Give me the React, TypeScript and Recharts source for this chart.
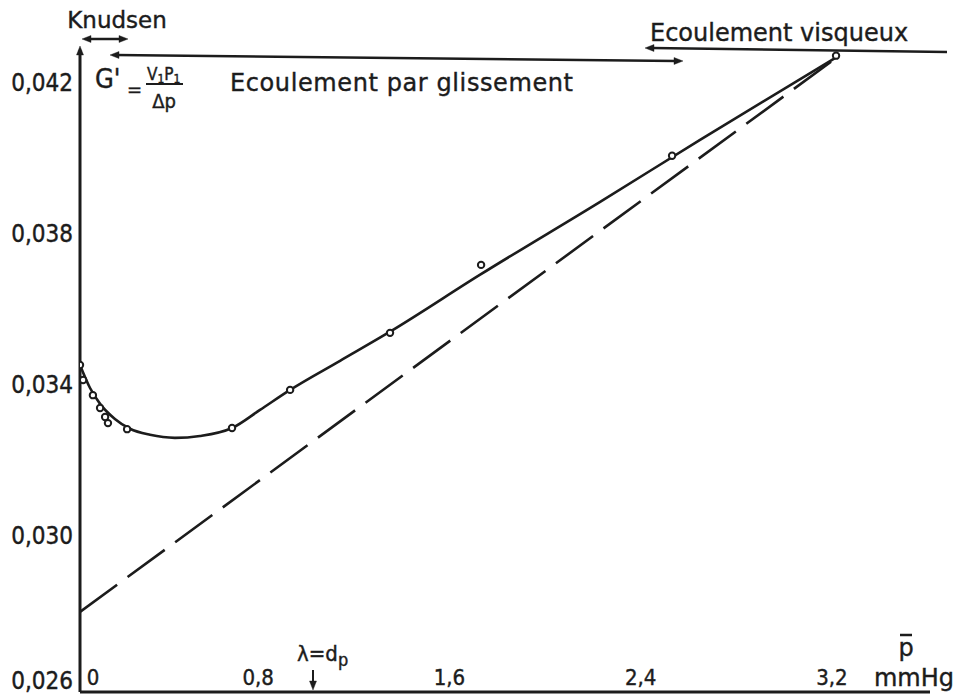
import React from "react";
import {
  ComposedChart,
  Line,
  Scatter,
  XAxis,
  YAxis,
  Customized,
} from "recharts";

// Smooth fitted curve G' vs mean pressure p (mmHg)
const curveP = [0, 0.042, 0.084, 0.146, 0.209, 0.293, 0.397, 0.502, 0.636, 0.753, 0.879, 1.088, 1.297, 1.674, 2.176, 2.594, 3.167];
const curveG = [0.03466, 0.03405, 0.03363, 0.03323, 0.03297, 0.03281, 0.03273, 0.03278, 0.03299, 0.03347, 0.034, 0.03477, 0.03554, 0.03705, 0.03898, 0.04062, 0.04282];

// Measured points
const pointsP = [0, 0.013, 0.054, 0.084, 0.105, 0.117, 0.197, 0.636, 0.879, 1.297, 1.678, 2.477, 3.163];
const pointsG = [0.03466, 0.03426, 0.03386, 0.03352, 0.03328, 0.03312, 0.03296, 0.03299, 0.034, 0.03551, 0.03731, 0.0402, 0.04285];

// Viscous-flow asymptote (dashed)
const dashP = [0, 3.17];
const dashG = [0.02812, 0.04282];

const xTicks = [0, 0.8, 1.6, 2.4, 3.2];
const yTicks = [0.026, 0.03, 0.034, 0.038, 0.042];

const curveData = curveP.map((p, i) => ({ p, g: curveG[i] }));
const pointData = pointsP.map((p, i) => ({ p, g: pointsG[i] }));
const dashData = dashP.map((p, i) => ({ p, g: dashG[i] }));

const INK = "#1c1c1c";
const FONT = "'DejaVu Sans', sans-serif";
const CFONT = "'DejaVu Sans Condensed', 'DejaVu Sans', sans-serif";

const fmt = (v: number) => {
  const s = v === 0.03 ? "0.030" : String(v);
  return s.replace(".", ",");
};

const YTick = (props: any) => {
  const { x, y, payload } = props;
  return (
    <text x={x} y={Math.min(y + 3, 689)} textAnchor="end" fontFamily={CFONT} fontSize={24} fill={INK} stroke={INK} strokeWidth={0.4}>
      {fmt(payload.value)}
    </text>
  );
};

const XTick = (props: any) => {
  const { x, payload } = props;
  const v = payload.value;
  const dx = v === 0 ? 13 : -13;
  const label = v === 0 ? "0" : fmt(v);
  return (
    <text x={x + dx} y={685} textAnchor="middle" fontFamily={CFONT} fontSize={22} fill={INK} stroke={INK} strokeWidth={0.4}>
      {label}
    </text>
  );
};

const Dot = (props: any) => {
  const { cx, cy } = props;
  return <circle cx={cx} cy={cy} r={3.2} fill="#ffffff" stroke={INK} strokeWidth={2} />;
};

const Head = ({ x, y, dir }: { x: number; y: number; dir: "l" | "r" | "u" | "d" }) => {
  const s = 7;
  let pts = "";
  if (dir === "l") pts = `${x},${y} ${x + s + 2},${y - s / 2} ${x + s + 2},${y + s / 2}`;
  if (dir === "r") pts = `${x},${y} ${x - s - 2},${y - s / 2} ${x - s - 2},${y + s / 2}`;
  if (dir === "u") pts = `${x},${y} ${x - s / 2},${y + s + 2} ${x + s / 2},${y + s + 2}`;
  if (dir === "d") pts = `${x},${y} ${x - s / 2},${y - s - 2} ${x + s / 2},${y - s - 2}`;
  return <polygon points={pts} fill={INK} />;
};

const Annotations = () => (
  <g fontFamily={FONT} fill={INK} stroke={INK} strokeWidth={0.4}>
    {/* y axis arrow head */}
    <Head x={80} y={46} dir="u" />

    {/* Knudsen */}
    <text x={117} y={28} textAnchor="middle" fontSize={23}>Knudsen</text>
    <line x1={88} y1={39} x2={122} y2={39} stroke={INK} strokeWidth={2.5} />
    <Head x={82} y={39} dir="l" />
    <Head x={128} y={39} dir="r" />

    {/* glissement arrow */}
    <line x1={116} y1={55} x2={676} y2={61} stroke={INK} strokeWidth={2.5} />
    <Head x={110} y={55} dir="l" />
    <Head x={683} y={61} dir="r" />
    <text x={230} y={91} fontSize={24} letterSpacing={0.6}>Ecoulement par glissement</text>

    {/* visqueux arrow */}
    <text x={650} y={41} fontSize={24}>Ecoulement visqueux</text>
    <line x1={652} y1={48} x2={947} y2={52} stroke={INK} strokeWidth={2.5} />
    <Head x={645} y={48} dir="l" />

    {/* G' formula */}
    <text x={95} y={88} fontFamily={CFONT} fontSize={27}>G'</text>
    <text x={127} y={96} fontFamily={CFONT} fontSize={20}>=</text>
    <text x={147} y={80} fontFamily={CFONT} fontSize={17}>
      V<tspan fontSize={12} dy={3}>1</tspan>
      <tspan dy={-3}>P</tspan>
      <tspan fontSize={12} dy={3}>1</tspan>
    </text>
    <line x1={146} y1={84} x2={183} y2={84} stroke={INK} strokeWidth={2} />
    <text x={164} y={108} textAnchor="middle" fontFamily={CFONT} fontSize={20}>Δp</text>

    {/* lambda = dp */}
    <text x={297} y={661} fontFamily={CFONT} fontSize={22}>
      λ=d<tspan fontSize={18} dy={5}>p</tspan>
    </text>
    <line x1={313} y1={670} x2={313} y2={684} stroke={INK} strokeWidth={2} />
    <Head x={313} y={690} dir="d" />

    {/* p bar / mmHg */}
    <text x={906} y={656} textAnchor="middle" fontSize={24}>p</text>
    <line x1={900} y1={635} x2={912} y2={635} stroke={INK} strokeWidth={2.5} />
    <text x={914} y={686} textAnchor="middle" fontSize={24}>mmHg</text>
  </g>
);

export default function App() {
  return (
    <div style={{ position: "absolute", left: 0, top: 0, width: 959, height: 696, background: "#ffffff" }}>
      <ComposedChart
        width={959}
        height={696}
        margin={{ top: 50, right: 29, bottom: 3, left: 79 }}
      >
        <XAxis
          type="number"
          dataKey="p"
          domain={[0, 3.556]}
          ticks={xTicks}
          allowDataOverflow
          height={1}
          tickSize={0}
          tickMargin={0}
          axisLine={{ stroke: INK, strokeWidth: 3 }}
          tickLine={false}
          tick={<XTick />}
          interval={0}
        />
        <YAxis
          type="number"
          dataKey="g"
          domain={[0.026, 0.043]}
          ticks={yTicks}
          allowDataOverflow
          width={1}
          tickSize={0}
          tickMargin={7}
          axisLine={{ stroke: INK, strokeWidth: 3 }}
          tickLine={false}
          tick={<YTick />}
          interval={0}
        />
        <Line
          data={dashData}
          dataKey="g"
          type="linear"
          stroke={INK}
          strokeWidth={2.6}
          strokeDasharray="46 13"
          dot={false}
          activeDot={false}
          isAnimationActive={false}
        />
        <Line
          data={curveData}
          dataKey="g"
          type="monotone"
          stroke={INK}
          strokeWidth={2.6}
          dot={false}
          activeDot={false}
          isAnimationActive={false}
        />
        <Scatter data={pointData} dataKey="g" shape={<Dot />} isAnimationActive={false} />
        <Customized component={Annotations} />
      </ComposedChart>
    </div>
  );
}
